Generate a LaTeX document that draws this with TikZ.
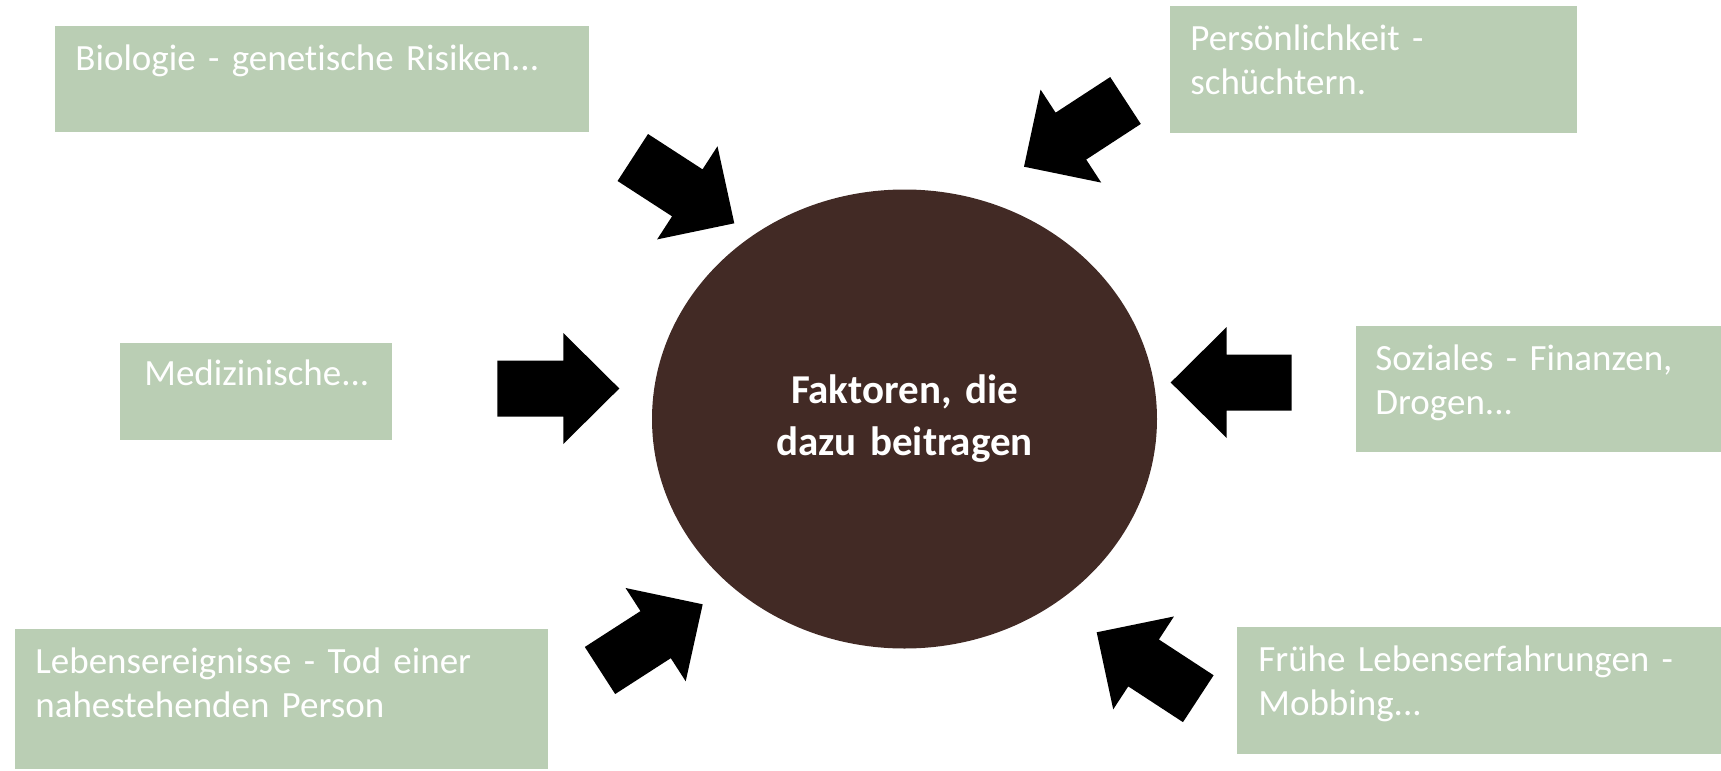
\documentclass[tikz,border=0pt]{standalone}
\usepackage{fontspec}
\setmainfont{Carlito}[Ligatures=NoCommon]
\usetikzlibrary{calc,shapes.geometric}
\frenchspacing

\definecolor{sage}{RGB}{186,206,180}
\definecolor{umber}{RGB}{66,42,37}
\DeclareRobustCommand\tightspace{\spaceskip=0.2em plus 0.05em\relax}

\tikzset{
  factortext/.style={anchor=base west, text=white, align=left, text width=260pt,
    inner sep=0pt, font=\fontsize{18.5}{22}\selectfont\tightspace},
  hub/.style={ellipse, fill=umber, text=white, inner sep=0pt, outer sep=0pt,
    minimum width=252.5pt, minimum height=229.5pt, text width=150pt, align=center,
    font=\bfseries\fontsize{20.5}{26}\selectfont\tightspace},
  blockarrow/.style={fill=black, to path={
    ($(\tikztostart)!14pt!90:(\tikztotarget)$)
    -- ($(\tikztotarget)!28pt!(\tikztostart)!14pt!-90:(\tikztostart)$)
    -- ($(\tikztotarget)!28pt!(\tikztostart)!27.75pt!-90:(\tikztostart)$)
    -- (\tikztotarget)
    -- ($(\tikztotarget)!28pt!(\tikztostart)!27.75pt!90:(\tikztostart)$)
    -- ($(\tikztotarget)!28pt!(\tikztostart)!14pt!90:(\tikztostart)$)
    -- ($(\tikztostart)!14pt!-90:(\tikztotarget)$) -- cycle}}
}

\begin{document}
\begin{tikzpicture}[x=0.5pt, y=-0.5pt]
  \useasboundingbox (0,0) rectangle (1721,771);

  % green boxes
  \fill[sage] (55,26) rectangle (589,132);
  \fill[sage] (1170,6) rectangle (1577,133);
  \fill[sage] (120,343) rectangle (392,440);
  \fill[sage] (1356,326) rectangle (1721,452);
  \fill[sage] (15,629) rectangle (548,769);
  \fill[sage] (1237,627) rectangle (1721,754);

  \node[factortext] (bio) at (75,70) {Biologie - genetische Risiken...};
  \node[factortext] (pers) at (1190,50) {Persönlichkeit -\\schüchtern.};
  \node[factortext] (med) at (144,385) {Medizinische...};
  \node[factortext] (soz) at (1375,370) {Soziales - Finanzen,\\Drogen...};
  \node[factortext] (leb) at (35,673) {Lebensereignisse - Tod einer\\nahestehenden Person};
  \node[factortext] (fru) at (1258,671) {Frühe Lebenserfahrungen -\\Mobbing...};

  % centre
  \node[hub] (hub) at (904.5,419) {Faktoren, die\\dazu beitragen};

  % block arrows
  \coordinate (bio-tail) at (632.8,157.5);  \coordinate (bio-tip) at (734.3,223.3);
  \coordinate (pers-tail) at (1125.5,100.5); \coordinate (pers-tip) at (1024,166.7);
  \coordinate (med-tail) at (497.3,388.5);  \coordinate (med-tip) at (619.3,388.5);
  \coordinate (soz-tail) at (1291.7,382.5); \coordinate (soz-tip) at (1170.7,382.5);
  \coordinate (leb-tail) at (600,670.5);    \coordinate (leb-tip) at (702.7,604.3);
  \coordinate (fru-tail) at (1198.3,698.7); \coordinate (fru-tip) at (1096.7,632.3);
  \foreach \f in {bio,pers,med,soz,leb,fru}
    \path[blockarrow] (\f-tail) to (\f-tip);
\end{tikzpicture}
\end{document}
